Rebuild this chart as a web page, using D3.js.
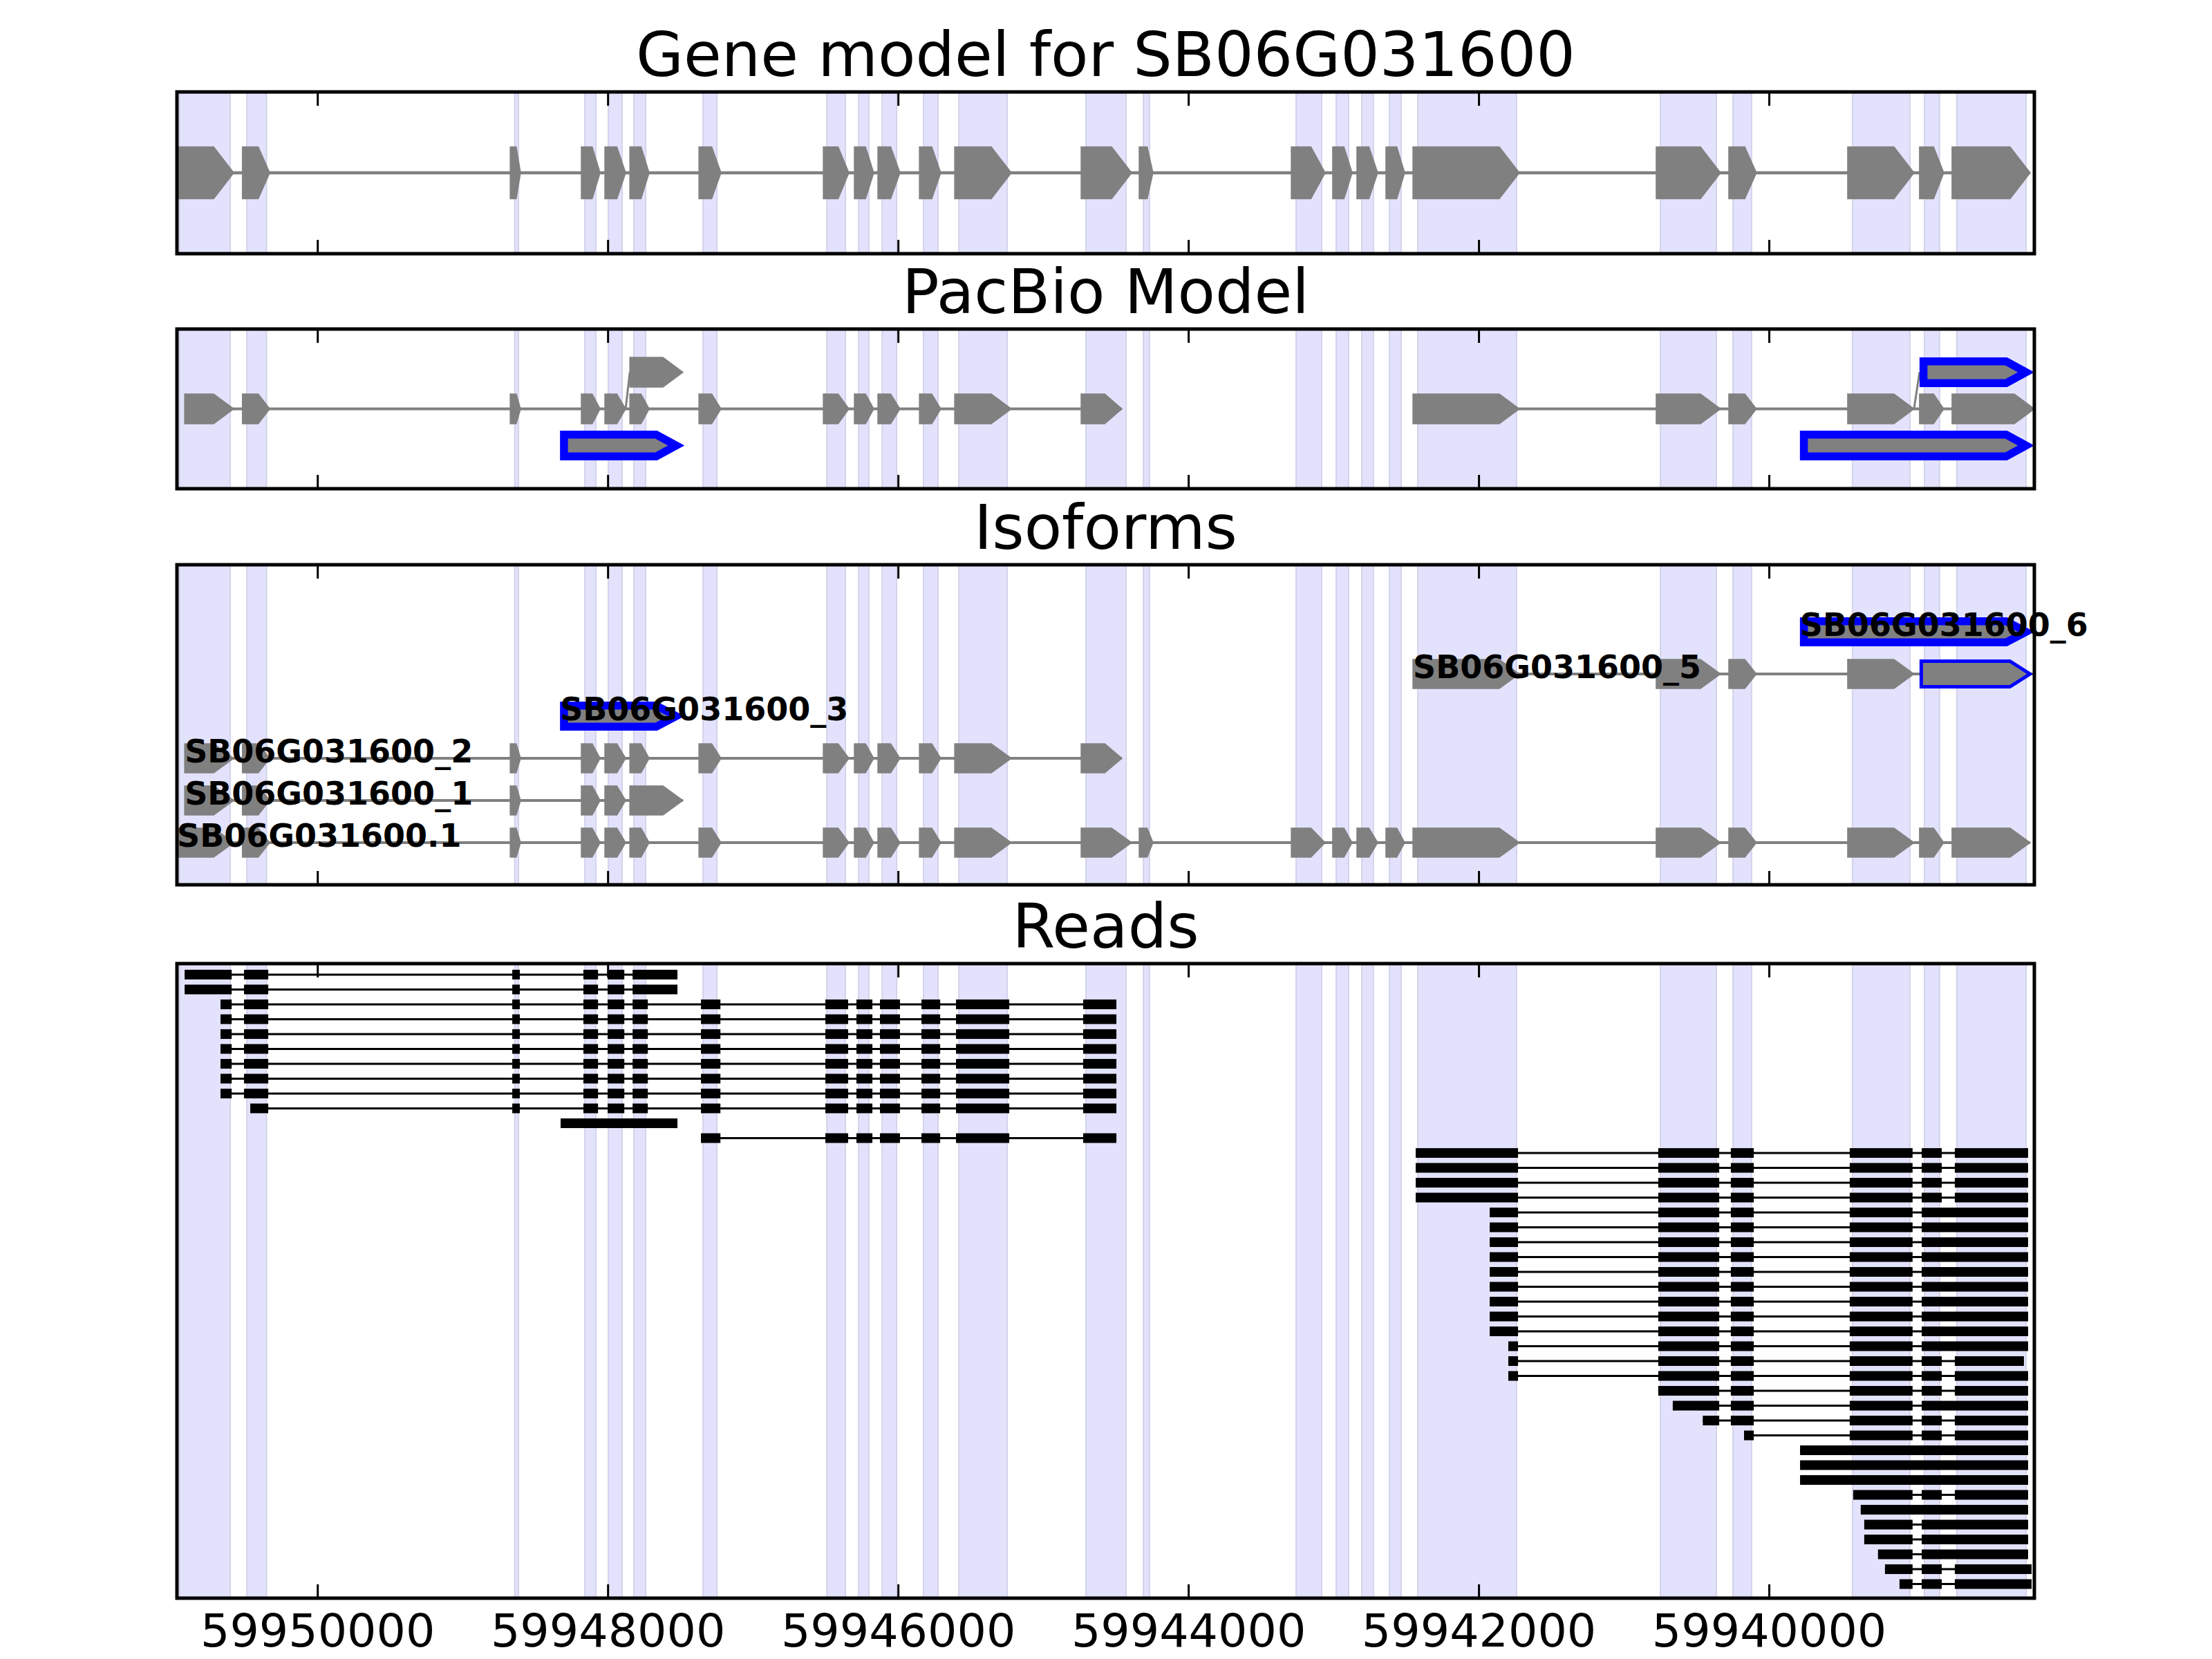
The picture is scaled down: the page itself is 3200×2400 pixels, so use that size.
<!DOCTYPE html>
<html><head><meta charset="utf-8">
<script src="https://cdn.jsdelivr.net/npm/d3@7"></script>
<style>html,body{margin:0;padding:0;background:#fff}</style>
</head><body>
<svg id="chart" width="3200" height="2400" xmlns="http://www.w3.org/2000/svg"></svg>
<script>
// ---------------- DATA (genomic coordinates, [left, right] in plot order) ----------------
const X_RANGE = [59950970, 59938174];
const TICKS = [59950000, 59948000, 59946000, 59944000, 59942000, 59940000];
const TITLES = ["Gene model for SB06G031600", "PacBio Model", "Isoforms", "Reads"];

// shaded exon bands
const BANDS = [
  [59950952, 59950603], [59950489, 59950353], [59948643, 59948617], [59948160, 59948084],
  [59947998, 59947903], [59947822, 59947741], [59947346, 59947250], [59946493, 59946365],
  [59946274, 59946203], [59946112, 59946012], [59945827, 59945727], [59945584, 59945250],
  [59944708, 59944431], [59944312, 59944270], [59943260, 59943084], [59942984, 59942898],
  [59942808, 59942727], [59942617, 59942536], [59942422, 59941741], [59940750, 59940365],
  [59940250, 59940122], [59939427, 59939031], [59938931, 59938827], [59938708, 59938231]
];

// gene model exons (SB06G031600.1)
const GENE_EXONS = [
  [59950970, 59950579], [59950519, 59950331], [59948674, 59948603], [59948184, 59948055],
  [59948022, 59947879], [59947850, 59947717], [59947374, 59947222], [59946517, 59946341],
  [59946303, 59946170], [59946141, 59945989], [59945855, 59945708], [59945612, 59945222],
  [59944741, 59944393], [59944341, 59944246], [59943293, 59943060], [59943008, 59942874],
  [59942841, 59942698], [59942641, 59942512], [59942455, 59941722], [59940779, 59940336],
  [59940279, 59940089], [59939460, 59939003], [59938965, 59938798], [59938741, 59938203]
];

// PacBio model: rows (-1 lower, 0 main, 1 upper)
const PB_LEFT = [
  [59950917, 59950579], [59950519, 59950331], [59948674, 59948603], [59948184, 59948055],
  [59948022, 59947879], [59947850, 59947717], [59947374, 59947222], [59946517, 59946341],
  [59946303, 59946170], [59946141, 59945989], [59945855, 59945708], [59945612, 59945222],
  [59944741, 59944460]
];
const PB_RIGHT = [
  [59942455, 59941722], [59940779, 59940336], [59940279, 59940089], [59939460, 59939003],
  [59938965, 59938798], [59938741, 59938174]
];
const PB_UPPER_GRAY = [[59947850, 59947484]];
const PB_UPPER_BLUE = [[59938965, 59938184]];
const PB_LOWER_BLUE = [[59948331, 59947484], [59939789, 59938184]];
// branch links: [from x, from row, to x, to row]
const PB_LINKS = [[59947879, 0, 59947850, 1], [59939003, 0, 59938965, 1]];

// Isoforms (row 0 = bottom)
const ISO_NAMES = ["SB06G031600.1", "SB06G031600_1", "SB06G031600_2", "SB06G031600_3", "SB06G031600_5", "SB06G031600_6"];
const ISO_1 = GENE_EXONS;
const ISO_A = [[59950917, 59950579], [59950519, 59950331], [59948674, 59948603], [59948184, 59948055], [59948022, 59947879], [59947850, 59947484]];
const ISO_B = PB_LEFT;
const ISO_C = [[59948331, 59947484]];
const ISO_D = [[59942455, 59941722], [59940779, 59940336], [59940279, 59940089], [59939460, 59939003], [59938965, 59938184]];
const ISO_E = [[59939789, 59938184]];
const ISO_EXONS = [ISO_1, ISO_A, ISO_B, ISO_C, ISO_D, ISO_E];
// outline style per exon: 0 gray, 1 thin blue, 2 thick blue
const ISO_STYLE = [
  ISO_1.map(() => 0), ISO_A.map(() => 0), ISO_B.map(() => 0), [2], [0, 0, 0, 0, 1], [2]
];

// Read alignment blocks
const RB = {
  L1: [59950917, 59950593], L1s: [59950670, 59950593], L2: [59950508, 59950341], L2s: [59950465, 59950341],
  L3: [59948660, 59948608], L4: [59948170, 59948069], L5: [59948003, 59947888], L6x: [59947831, 59947522],
  L6: [59947831, 59947726], L7: [59947360, 59947226], L8: [59946503, 59946346], L9: [59946289, 59946179],
  L10: [59946127, 59945989], L11: [59945841, 59945712], L12: [59945603, 59945236], L13: [59944727, 59944498],
  L3x: [59948327, 59947522],
  A: [59942436, 59941731], A1: [59941926, 59941731], A2: [59941798, 59941731],
  B: [59940765, 59940345], B2: [59940665, 59940345], B3: [59940458, 59940345],
  C: [59940265, 59940107], C2: [59940174, 59940107],
  D: [59939446, 59939013], D2: [59939422, 59939013], D3: [59939346, 59939013], D4: [59939251, 59939013],
  D5: [59939203, 59939013], D6: [59939103, 59939013],
  E: [59938950, 59938812], F: [59938722, 59938217], F2: [59938722, 59938246], F3: [59938722, 59938193],
  EF: [59938950, 59938217], G: [59939788, 59938217], H: [59939370, 59938217]
};
const READS = [
  "L1 L2 L3 L4 L5 L6x", "L1 L2 L3 L4 L5 L6x",
  "L1s L2 L3 L4 L5 L6 L7 L8 L9 L10 L11 L12 L13", "L1s L2 L3 L4 L5 L6 L7 L8 L9 L10 L11 L12 L13",
  "L1s L2 L3 L4 L5 L6 L7 L8 L9 L10 L11 L12 L13", "L1s L2 L3 L4 L5 L6 L7 L8 L9 L10 L11 L12 L13",
  "L1s L2 L3 L4 L5 L6 L7 L8 L9 L10 L11 L12 L13", "L1s L2 L3 L4 L5 L6 L7 L8 L9 L10 L11 L12 L13",
  "L1s L2 L3 L4 L5 L6 L7 L8 L9 L10 L11 L12 L13",
  "L2s L3 L4 L5 L6 L7 L8 L9 L10 L11 L12 L13",
  "L3x",
  "L7 L8 L9 L10 L11 L12 L13",
  "A B C D E F", "A B C D E F", "A B C D E F", "A B C D E F",
  "A1 B C D EF", "A1 B C D EF", "A1 B C D EF", "A1 B C D EF", "A1 B C D EF",
  "A1 B C D EF", "A1 B C D EF", "A1 B C D EF", "A1 B C D EF",
  "A2 B C D EF", "A2 B C D E F2", "A2 B C D E F",
  "B C D E F", "B2 C D EF", "B3 C D E F", "C2 D E F",
  "G", "G", "G",
  "D2 E F", "H", "D3 EF", "D3 EF", "D4 EF", "D5 E F3", "D6 E F3"
];

// ---------------- DRAWING ----------------
const svg = d3.select("#chart");
const FONT = "'DejaVu Sans', 'Liberation Sans', sans-serif";
const GRAY = "#808080";
const BLUE = "#0000ff";
const PLOT_L = 256, PLOT_R = 2943;
const PANELS = [
  {top: 133, bottom: 367, ydom: [-1, 1]},
  {top: 476, bottom: 707, ydom: [-2.18, 2.18]},
  {top: 817, bottom: 1280, ydom: [-1, 6.59]},
  {top: 1394, bottom: 2312, ydom: [-0.74, 41.95]}
];
const x = d3.scaleLinear().domain(X_RANGE).range([PLOT_L, PLOT_R]);
PANELS.forEach((p, i) => {
  p.y = d3.scaleLinear().domain(p.ydom).range(i === 3 ? [p.top, p.bottom] : [p.bottom, p.top]);
  p.g = svg.append("g");
  const clipId = "clip" + i;
  svg.append("clipPath").attr("id", clipId).append("rect")
    .attr("x", PLOT_L).attr("y", p.top).attr("width", PLOT_R - PLOT_L).attr("height", p.bottom - p.top);
  p.clip = "url(#" + clipId + ")";
});

function arrowPts(xl, xr, yc, h) {
  const w = xr - xl;
  const head = Math.min(29, 0.42 * w);
  return [[xl, yc - h], [xr - head, yc - h], [xr, yc], [xr - head, yc + h], [xl, yc + h]];
}
const line = d3.line();

function drawExon(g, ex, yc, h, style) {
  const xl = x(ex[0]), xr = x(ex[1]);
  if (style === 0) {
    g.append("path").attr("d", line(arrowPts(xl, xr, yc, h)) + "Z")
      .attr("fill", GRAY).attr("stroke", GRAY).attr("stroke-width", 1.5);
  } else {
    const sw = style === 2 ? 11.5 : 5;
    const pts = arrowPts(xl + sw / 2, xr - sw * 0.85, yc, h - sw / 2);
    g.append("path").attr("d", line(pts) + "Z")
      .attr("fill", GRAY).attr("stroke", BLUE).attr("stroke-width", sw)
      .attr("stroke-linejoin", "miter");
  }
}
function drawModel(g, exons, yc, h, lw, styles) {
  g.append("line")
    .attr("x1", x(exons[0][0])).attr("x2", x(exons[exons.length - 1][1]))
    .attr("y1", yc).attr("y2", yc).attr("stroke", GRAY).attr("stroke-width", lw);
  exons.forEach((ex, k) => drawExon(g, ex, yc, h, styles ? styles[k] : 0));
}

// bands in every panel
PANELS.forEach(p => {
  p.g.append("g").selectAll("rect").data(BANDS).join("rect")
    .attr("x", d => x(d[0])).attr("width", d => x(d[1]) - x(d[0]))
    .attr("y", p.top).attr("height", p.bottom - p.top)
    .attr("fill", "#e2e2fd").attr("stroke", "#d3d3ec").attr("stroke-width", 2);
});

// panel 1: gene model
{
  const p = PANELS[0];
  drawModel(p.g.append("g"), GENE_EXONS, p.y(0), 37.5, 4.5);
}
// panel 2: PacBio
{
  const p = PANELS[1];
  const g = p.g.append("g").attr("clip-path", p.clip);
  g.selectAll("line.link").data(PB_LINKS).join("line").attr("class", "link")
    .attr("x1", d => x(d[0])).attr("y1", d => p.y(d[1]))
    .attr("x2", d => x(d[2])).attr("y2", d => p.y(d[3]))
    .attr("stroke", GRAY).attr("stroke-width", 3);
  drawModel(g, PB_LEFT, p.y(0), 21.5, 4);
  drawModel(g, PB_RIGHT, p.y(0), 21.5, 4);
  PB_UPPER_GRAY.forEach(ex => drawExon(g, ex, p.y(1), 21.5, 0));
  PB_UPPER_BLUE.forEach(ex => drawExon(g, ex, p.y(1), 21.5, 2));
  PB_LOWER_BLUE.forEach(ex => drawExon(g, ex, p.y(-1), 21.5, 2));
}
// panel 3: isoforms
{
  const p = PANELS[2];
  const g = p.g.append("g");
  ISO_EXONS.forEach((exons, i) => drawModel(g, exons, p.y(i), 21, 4, ISO_STYLE[i]));
  g.selectAll("text").data(ISO_NAMES).join("text")
    .attr("x", (d, i) => x(ISO_EXONS[i][0][0]))
    .attr("y", (d, i) => p.y(i) + 6)
    .attr("font-family", FONT).attr("font-weight", "bold").attr("font-size", 46)
    .attr("fill", "#000").text(d => d);
}
// panel 4: reads
{
  const p = PANELS[3];
  const g = p.g.append("g");
  READS.forEach((r, i) => {
    const blocks = r.split(" ").map(k => RB[k]);
    const yc = p.y(i);
    g.append("line").attr("x1", x(blocks[0][0])).attr("x2", x(blocks[blocks.length - 1][1]))
      .attr("y1", yc).attr("y2", yc).attr("stroke", "#000").attr("stroke-width", 3);
    g.selectAll(null).data(blocks).join("rect")
      .attr("x", d => x(d[0])).attr("width", d => x(d[1]) - x(d[0]))
      .attr("y", yc - 7).attr("height", 14).attr("fill", "#000");
  });
}

// frames, ticks, titles
PANELS.forEach((p, i) => {
  const g = svg.append("g");
  g.selectAll("line.tt").data(TICKS).join("line").attr("class", "tt")
    .attr("x1", d => x(d)).attr("x2", d => x(d)).attr("y1", p.top).attr("y2", p.top + 20)
    .attr("stroke", "#000").attr("stroke-width", 3);
  g.selectAll("line.tb").data(TICKS).join("line").attr("class", "tb")
    .attr("x1", d => x(d)).attr("x2", d => x(d)).attr("y1", p.bottom - 20).attr("y2", p.bottom)
    .attr("stroke", "#000").attr("stroke-width", 3);
  g.append("rect").attr("x", PLOT_L).attr("y", p.top).attr("width", PLOT_R - PLOT_L)
    .attr("height", p.bottom - p.top).attr("fill", "none").attr("stroke", "#000").attr("stroke-width", 5);
  g.append("text").attr("x", (PLOT_L + PLOT_R) / 2).attr("y", p.top - 23)
    .attr("text-anchor", "middle").attr("font-family", FONT).attr("font-size", 89)
    .attr("fill", "#000").text(TITLES[i]);
});
svg.append("g").selectAll("text").data(TICKS).join("text")
  .attr("x", d => x(d)).attr("y", 2382).attr("text-anchor", "middle")
  .attr("font-family", FONT).attr("font-size", 66.7).attr("fill", "#000").text(d => d);
</script>
</body></html>
